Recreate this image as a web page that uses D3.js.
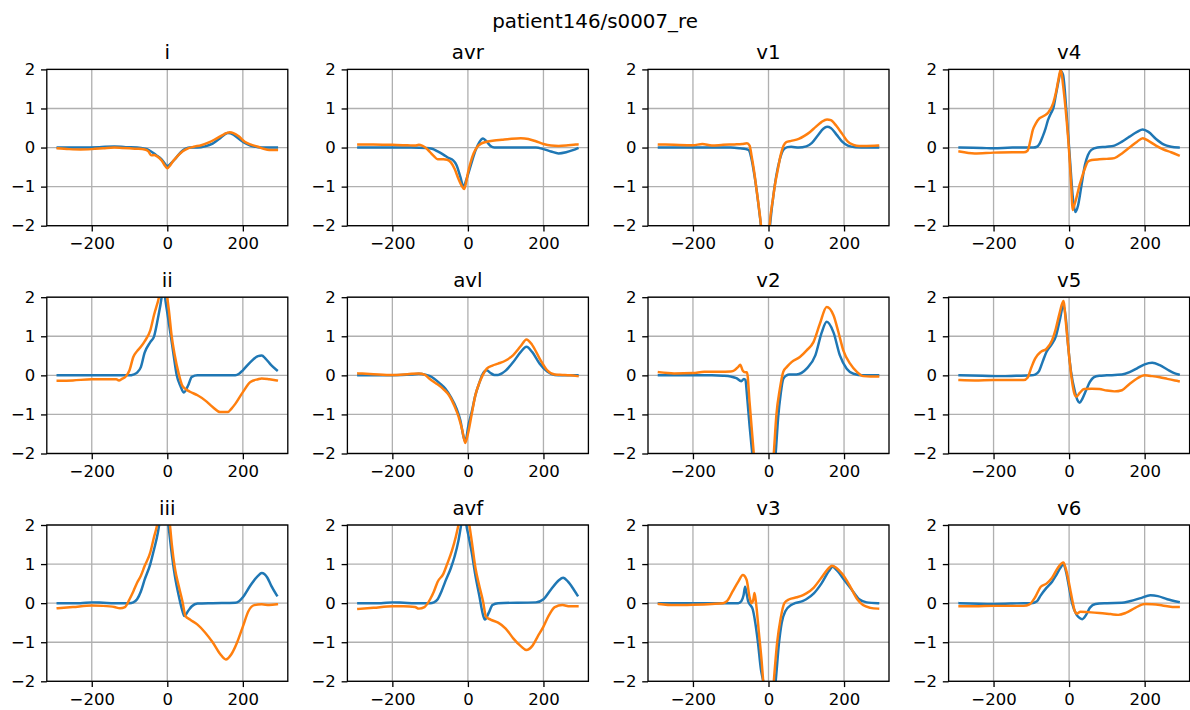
<!DOCTYPE html>
<html>
<head>
<meta charset="utf-8">
<script src="https://cdn.jsdelivr.net/npm/d3@7"></script>
<style>
  body { margin: 0; background: #fff; }
  svg { display: block; }
  text { font-family: "DejaVu Sans", sans-serif; fill: #000; }
</style>
</head>
<body>
<svg id="chart" width="1190" height="710"></svg>
<script>
// ---- figure text and axis ticks ----
const figTitle = "patient146/s0007_re";
const leadNames = ["i", "avr", "v1", "v4", "ii", "avl", "v2", "v5", "iii", "avf", "v3", "v6"];
const xTicks = [-200, 0, 200];
const yTicks = [-2, -1, 0, 1, 2];
const xDomain = [-319, 319];
const yDomain = [-2, 2];

// ---- beat traces: [sample offset, amplitude] ; first series (blue) and second series (orange) ----
const iA = [[-290,0],[-230,0],[-180,0.01],[-140,0.03],[-110,0.01],[-80,0],[-60,-0.03],[-50,-0.06],[-30,-0.19],[-15,-0.3],[0,-0.47],[10,-0.4],[20,-0.3],[30,-0.18],[40,-0.08],[50,-0.02],[60,0],[80,0],[100,0.03],[120,0.1],[140,0.24],[160,0.37],[175,0.33],[190,0.22],[205,0.12],[220,0.05],[240,0.01],[260,0],[290,0]];
const iB = [[-290,-0.02],[-260,-0.04],[-230,-0.05],[-200,-0.04],[-170,-0.02],[-140,0],[-120,-0.01],[-100,-0.02],[-80,-0.03],[-60,-0.05],[-50,-0.1],[-42,-0.2],[-35,-0.19],[-28,-0.22],[-15,-0.33],[-5,-0.48],[0,-0.53],[8,-0.45],[15,-0.35],[25,-0.24],[40,-0.1],[55,-0.02],[70,0.02],[90,0.06],[110,0.13],[130,0.23],[150,0.34],[165,0.39],[175,0.37],[190,0.28],[205,0.15],[220,0.08],[240,0.02],[255,-0.03],[270,-0.06],[290,-0.06]];

const avrA = [[-290,0],[-200,0],[-150,0],[-110,-0.01],[-95,-0.03],[-80,-0.1],[-65,-0.18],[-50,-0.27],[-40,-0.32],[-30,-0.45],[-20,-0.75],[-12,-1.0],[-5,-0.85],[0,-0.7],[10,-0.38],[20,-0.08],[30,0.13],[40,0.23],[50,0.15],[60,0.04],[70,0],[100,0],[140,0],[180,0],[200,-0.04],[220,-0.1],[240,-0.15],[260,-0.12],[280,-0.06],[290,-0.02]];
const avrB = [[-290,0.08],[-250,0.08],[-200,0.07],[-160,0.06],[-140,0.05],[-130,0.07],[-120,0.04],[-110,-0.02],[-100,-0.12],[-90,-0.22],[-80,-0.3],[-65,-0.3],[-55,-0.31],[-45,-0.38],[-35,-0.55],[-25,-0.8],[-15,-1.0],[-10,-1.06],[-5,-0.9],[0,-0.65],[8,-0.35],[15,-0.15],[25,0.02],[35,0.1],[50,0.15],[70,0.18],[90,0.2],[110,0.22],[140,0.24],[160,0.22],[180,0.16],[200,0.09],[220,0.05],[240,0.04],[260,0.05],[280,0.07],[290,0.08]];

const v1A = [[-290,0],[-200,0],[-100,0],[-75,-0.02],[-60,-0.04],[-52,-0.07],[-46,-0.25],[-40,-0.55],[-32,-1.05],[-23,-1.75],[-15,-2.4],[-5,-2.8],[0,-2.5],[4,-2.0],[12,-1.3],[21,-0.7],[30,-0.3],[40,-0.05],[50,0.01],[60,0.02],[80,0],[100,0.03],[115,0.12],[130,0.3],[145,0.48],[155,0.53],[165,0.5],[180,0.33],[195,0.15],[210,0.05],[230,0.01],[260,0],[290,0]];
const v1B = [[-290,0.08],[-250,0.07],[-200,0.06],[-175,0.09],[-150,0.05],[-120,0.07],[-90,0.08],[-70,0.09],[-57,0.11],[-50,0.05],[-45,-0.2],[-39,-0.55],[-32,-1.05],[-23,-1.72],[-15,-2.4],[-5,-2.8],[0,-2.5],[3,-2.0],[12,-1.3],[18,-0.9],[25,-0.55],[32,-0.2],[40,0.05],[47,0.14],[60,0.17],[80,0.22],[95,0.3],[110,0.4],[125,0.53],[140,0.65],[155,0.72],[165,0.7],[180,0.55],[195,0.35],[210,0.15],[225,0.07],[240,0.04],[260,0.04],[290,0.05]];

const v4A = [[-290,0],[-230,-0.01],[-200,-0.02],[-150,0],[-120,0],[-95,0],[-85,0.02],[-78,0.1],[-70,0.28],[-62,0.5],[-56,0.7],[-48,0.88],[-42,1.0],[-35,1.35],[-28,1.7],[-22,1.95],[-16,1.86],[-7,0.92],[2,-0.27],[11,-1.38],[17,-1.65],[24,-1.47],[33,-0.95],[42,-0.44],[50,-0.19],[59,-0.06],[75,0],[100,0.02],[120,0.05],[140,0.15],[160,0.28],[180,0.4],[195,0.46],[210,0.4],[230,0.22],[250,0.08],[270,0.02],[290,0]];
const v4B = [[-290,-0.1],[-250,-0.15],[-200,-0.13],[-150,-0.12],[-120,-0.12],[-110,-0.08],[-102,0.2],[-96,0.45],[-88,0.62],[-78,0.75],[-65,0.82],[-55,0.9],[-42,1.14],[-35,1.4],[-29,1.7],[-22,2.0],[-16,1.6],[-7,0.75],[0,-0.1],[6,-1.04],[9,-1.6],[13,-1.5],[19,-1.3],[28,-0.95],[33,-0.79],[42,-0.53],[50,-0.36],[60,-0.32],[80,-0.3],[100,-0.29],[120,-0.27],[140,-0.15],[160,0],[180,0.15],[195,0.24],[210,0.17],[230,0.05],[250,-0.05],[270,-0.12],[290,-0.2]];

const iiA = [[-290,0],[-200,0],[-150,0],[-100,0],[-90,0.02],[-80,0.07],[-70,0.21],[-60,0.58],[-45,0.85],[-35,1.0],[-25,1.45],[-15,2.0],[-10,2.4],[-6,2.0],[0,1.6],[9,1.03],[17,0.5],[25,0],[35,-0.28],[44,-0.44],[55,-0.26],[65,-0.04],[80,0],[120,0],[180,0],[190,0.04],[200,0.13],[220,0.34],[240,0.49],[250,0.51],[260,0.43],[275,0.26],[290,0.13]];
const iiB = [[-290,-0.14],[-250,-0.13],[-200,-0.1],[-150,-0.1],[-135,-0.1],[-128,-0.13],[-120,-0.09],[-110,-0.03],[-100,0.13],[-90,0.47],[-80,0.62],[-70,0.73],[-60,0.87],[-45,1.15],[-35,1.55],[-22,2.0],[-12,2.5],[-5,2.6],[0,2.0],[5,1.6],[11,1.05],[20,0.5],[30,0.05],[40,-0.27],[50,-0.36],[60,-0.42],[80,-0.51],[100,-0.64],[120,-0.81],[140,-0.94],[160,-0.94],[170,-0.85],[180,-0.73],[200,-0.43],[220,-0.17],[240,-0.1],[250,-0.08],[270,-0.1],[290,-0.13]];

const avlA = [[-290,0],[-200,0],[-150,0.02],[-130,0.04],[-110,0.01],[-100,-0.02],[-90,-0.08],[-75,-0.2],[-60,-0.34],[-45,-0.56],[-30,-0.85],[-20,-1.15],[-12,-1.55],[-8,-1.67],[-3,-1.55],[0,-1.35],[10,-0.94],[20,-0.5],[30,-0.2],[40,0.05],[50,0.13],[60,0.06],[70,0.01],[80,0.01],[90,0.05],[100,0.12],[120,0.34],[140,0.6],[155,0.73],[170,0.6],[190,0.3],[210,0.1],[230,0.01],[250,0],[290,0]];
const avlB = [[-290,0.05],[-250,0.03],[-200,0.01],[-160,0.03],[-130,0.05],[-115,0.02],[-100,-0.1],[-85,-0.2],[-65,-0.35],[-50,-0.51],[-35,-0.8],[-25,-1.05],[-15,-1.4],[-7,-1.73],[0,-1.5],[10,-1.0],[20,-0.5],[30,-0.2],[40,0.02],[50,0.17],[65,0.25],[80,0.3],[100,0.38],[120,0.52],[140,0.75],[155,0.92],[170,0.78],[190,0.43],[210,0.13],[230,0.02],[250,0.01],[270,0],[290,-0.02]];

const v2A = [[-290,0],[-200,0],[-150,0],[-120,-0.01],[-100,-0.03],[-85,-0.07],[-72,-0.15],[-65,-0.09],[-61,-0.12],[-57,-0.5],[-50,-1.3],[-43,-2.0],[-35,-2.8],[-10,-3.5],[10,-2.9],[19,-2.0],[26,-1.03],[32,-0.5],[39,-0.09],[48,0],[55,0.02],[74,0.02],[101,0.17],[124,0.51],[141,1.1],[154,1.37],[172,1.1],[189,0.51],[207,0.17],[225,0.04],[250,0],[290,0]];
const v2B = [[-290,0.08],[-250,0.05],[-200,0.06],[-170,0.09],[-130,0.09],[-100,0.1],[-90,0.13],[-80,0.22],[-75,0.27],[-68,0.12],[-62,0.08],[-57,0.08],[-50,-0.7],[-39,-2.0],[-30,-3.0],[-10,-3.6],[8,-2.8],[14,-2.0],[21,-1.0],[30,-0.35],[39,0.09],[48,0.21],[61,0.34],[83,0.47],[101,0.64],[119,0.85],[136,1.32],[154,1.75],[172,1.54],[185,1.11],[198,0.64],[216,0.3],[234,0.09],[251,-0.02],[270,-0.03],[290,-0.03]];

const v5A = [[-290,0],[-230,-0.01],[-180,-0.02],[-140,-0.01],[-100,0],[-90,0.02],[-80,0.1],[-70,0.35],[-60,0.6],[-45,0.81],[-35,1.0],[-25,1.4],[-15,1.79],[-8,1.4],[-3,0.8],[5,0.1],[15,-0.4],[22,-0.63],[28,-0.7],[35,-0.6],[45,-0.38],[55,-0.17],[65,-0.05],[80,-0.01],[100,0],[140,0.02],[160,0.08],[180,0.18],[200,0.28],[220,0.32],[240,0.26],[260,0.15],[280,0.05],[290,0.02]];
const v5B = [[-290,-0.12],[-250,-0.13],[-200,-0.12],[-150,-0.12],[-120,-0.12],[-110,-0.06],[-100,0.2],[-90,0.43],[-75,0.6],[-60,0.68],[-45,0.9],[-35,1.2],[-25,1.6],[-15,1.9],[-8,1.3],[0,0.5],[7,-0.1],[15,-0.5],[19,-0.55],[28,-0.45],[40,-0.35],[60,-0.34],[80,-0.35],[100,-0.39],[120,-0.41],[140,-0.38],[160,-0.22],[180,-0.08],[200,0],[220,-0.02],[240,-0.05],[260,-0.09],[280,-0.13],[290,-0.15]];

const iiiA = [[-290,0],[-230,0],[-200,0.02],[-170,0.01],[-140,0],[-100,0],[-90,0.02],[-80,0.1],[-70,0.3],[-60,0.6],[-45,1.0],[-35,1.38],[-25,1.8],[-20,2.1],[-12,2.6],[-4,2.6],[3,2.0],[10,1.4],[20,0.7],[30,0.2],[40,-0.2],[45,-0.33],[55,-0.2],[65,-0.08],[80,-0.01],[120,0],[180,0.01],[190,0.05],[200,0.15],[220,0.45],[240,0.7],[250,0.77],[265,0.65],[275,0.45],[290,0.2]];
const iiiB = [[-290,-0.13],[-250,-0.1],[-200,-0.06],[-170,-0.07],[-140,-0.1],[-125,-0.13],[-112,-0.1],[-100,0.1],[-90,0.3],[-80,0.52],[-70,0.7],[-60,0.95],[-45,1.3],[-35,1.7],[-27,2.0],[-18,2.6],[-5,2.8],[7,2.0],[12,1.5],[20,0.9],[30,0.45],[40,0.05],[48,-0.33],[60,-0.42],[80,-0.55],[100,-0.75],[120,-1.0],[140,-1.3],[155,-1.44],[170,-1.3],[185,-1.0],[200,-0.6],[215,-0.2],[230,-0.05],[250,-0.03],[270,-0.05],[290,-0.03]];

const avfA = [[-290,0],[-230,0],[-200,0.02],[-170,0.01],[-140,0],[-100,0],[-90,0.02],[-80,0.1],[-70,0.3],[-60,0.55],[-45,0.9],[-35,1.2],[-25,1.6],[-18,2.0],[-10,2.5],[-4,2.0],[2,1.7],[10,1.3],[20,0.7],[30,0.2],[40,-0.3],[45,-0.42],[55,-0.25],[65,-0.05],[80,0],[180,0.02],[200,0.1],[220,0.35],[240,0.58],[252,0.65],[265,0.55],[280,0.35],[290,0.2]];
const avfB = [[-290,-0.15],[-250,-0.12],[-200,-0.08],[-170,-0.08],[-140,-0.1],[-130,-0.14],[-115,-0.1],[-100,0.1],[-90,0.3],[-80,0.55],[-65,0.75],[-55,1.0],[-42,1.35],[-32,1.7],[-25,2.0],[-12,2.6],[-3,2.6],[4,2.0],[10,1.6],[20,0.9],[30,0.45],[40,0.05],[48,-0.35],[60,-0.42],[80,-0.5],[100,-0.65],[120,-0.9],[140,-1.1],[155,-1.2],[170,-1.1],[185,-0.85],[200,-0.6],[215,-0.3],[230,-0.1],[250,-0.05],[270,-0.08],[290,-0.08]];

const v3A = [[-290,0],[-200,0],[-150,0],[-100,0],[-80,0],[-72,0.05],[-66,0.2],[-62,0.42],[-58,0.25],[-54,0.05],[-48,-0.05],[-42,-0.15],[-35,-0.5],[-28,-1.0],[-20,-1.7],[-14,-2.0],[0,-3.0],[12,-2.6],[19,-2.0],[28,-1.0],[35,-0.5],[45,-0.2],[60,-0.05],[70,0],[90,0.05],[100,0.1],[120,0.25],[140,0.5],[160,0.82],[170,0.93],[180,0.85],[200,0.6],[220,0.35],[240,0.1],[260,0.02],[290,0]];
const v3B = [[-290,-0.02],[-250,-0.05],[-200,-0.04],[-150,-0.02],[-120,0],[-110,0.05],[-95,0.3],[-80,0.55],[-68,0.72],[-58,0.6],[-50,0.15],[-45,0],[-40,0.1],[-37,0.26],[-33,0],[-25,-0.8],[-18,-1.5],[-14,-2.0],[0,-3.2],[10,-2.5],[14,-2.0],[23,-1.0],[32,-0.4],[42,0],[55,0.1],[75,0.15],[90,0.2],[100,0.25],[120,0.4],[140,0.65],[160,0.9],[168,0.96],[180,0.9],[195,0.75],[215,0.45],[235,0.1],[250,-0.05],[270,-0.12],[290,-0.14]];

const v6A = [[-290,0],[-200,-0.02],[-150,-0.01],[-120,0],[-100,0],[-85,0.05],[-75,0.2],[-60,0.39],[-45,0.55],[-35,0.7],[-22,0.92],[-15,1.0],[-8,0.8],[0,0.4],[8,0],[20,-0.3],[28,-0.38],[35,-0.41],[45,-0.3],[55,-0.12],[70,-0.02],[100,0],[140,0.01],[160,0.05],[190,0.13],[215,0.2],[235,0.18],[260,0.1],[290,0.03]];
const v6B = [[-290,-0.08],[-250,-0.08],[-200,-0.07],[-160,-0.07],[-120,-0.07],[-105,-0.03],[-90,0.15],[-75,0.42],[-60,0.5],[-45,0.65],[-30,0.9],[-15,1.04],[-10,0.92],[-3,0.65],[3,0.35],[8,0.1],[15,-0.2],[20,-0.27],[30,-0.22],[50,-0.23],[80,-0.25],[110,-0.28],[130,-0.3],[150,-0.25],[175,-0.12],[200,-0.02],[220,-0.03],[240,-0.05],[260,-0.08],[280,-0.1],[290,-0.1]];

const seriesColors = ["#1f77b4", "#ff7f0e"];

// lead name -> its two traces, in drawing order
const traceTable = {
  i: [iA, iB], avr: [avrA, avrB], v1: [v1A, v1B], v4: [v4A, v4B],
  ii: [iiA, iiB], avl: [avlA, avlB], v2: [v2A, v2B], v5: [v5A, v5B],
  iii: [iiiA, iiiB], avf: [avfA, avfB], v3: [v3A, v3B], v6: [v6A, v6B]
};

// ---- layout (4 columns x 3 rows) ----
const W = 1190, H = 710;
const pt = 119 / 72;                 // pixels per point
const panelW = 241, panelH = 156.3;
const colLeft = c => 46.8 + c * 300.6;
const rowTop = r => 69.4 + r * 227.8;
const tickFont = 10 * pt, titleFont = 12 * pt;
const tickLen = 3.5 * pt, tickPad = 3.5 * pt;

const svg = d3.select("#chart");
svg.append("rect").attr("width", W).attr("height", H).attr("fill", "#fff");

svg.append("text")
  .attr("x", W / 2).attr("y", 28)
  .attr("text-anchor", "middle")
  .style("font-size", titleFont + "px")
  .text(figTitle);

const fmt = d => (d < 0 ? "\u2212" + Math.abs(d) : String(d));

leadNames.forEach((name, k) => {
  const c = k % 4, r = Math.floor(k / 4);
  const g = svg.append("g").attr("transform", `translate(${colLeft(c)},${rowTop(r)})`);

  const x = d3.scaleLinear().domain(xDomain).range([0, panelW]);
  const y = d3.scaleLinear().domain(yDomain).range([panelH, 0]);

  // grid
  g.append("g").selectAll("line").data(xTicks).join("line")
    .attr("x1", d => x(d)).attr("x2", d => x(d))
    .attr("y1", 0).attr("y2", panelH)
    .attr("stroke", "#b0b0b0").attr("stroke-width", 0.8 * pt);
  g.append("g").selectAll("line").data(yTicks).join("line")
    .attr("x1", 0).attr("x2", panelW)
    .attr("y1", d => y(d)).attr("y2", d => y(d))
    .attr("stroke", "#b0b0b0").attr("stroke-width", 0.8 * pt);

  // traces
  const clipId = "clip-" + k;
  g.append("clipPath").attr("id", clipId)
    .append("rect").attr("width", panelW).attr("height", panelH);

  const line = d3.line()
    .x(d => x(d[0]))
    .y(d => y(d[1]))
    .curve(d3.curveMonotoneX);

  const lg = g.append("g").attr("clip-path", `url(#${clipId})`);
  traceTable[name].forEach((pts, s) => {
    lg.append("path")
      .attr("d", line(pts))
      .attr("fill", "none")
      .attr("stroke", seriesColors[s])
      .attr("stroke-width", 1.5 * pt)
      .attr("stroke-linejoin", "round")
      .attr("stroke-linecap", "square");
  });

  // axes
  const xAxis = d3.axisBottom(x).tickValues(xTicks).tickSize(tickLen).tickPadding(tickPad).tickFormat(fmt);
  const yAxis = d3.axisLeft(y).tickValues(yTicks).tickSize(tickLen).tickPadding(tickPad).tickFormat(fmt);

  const gx = g.append("g").attr("transform", `translate(0,${panelH})`).call(xAxis);
  const gy = g.append("g").call(yAxis);
  [gx, gy].forEach(a => {
    a.select(".domain").remove();
    a.selectAll(".tick line").attr("stroke", "#000").attr("stroke-width", 0.8 * pt);
    a.selectAll(".tick text")
      .style("font-size", tickFont + "px")
      .style("font-family", "'DejaVu Sans', sans-serif")
      .attr("fill", "#000");
  });

  // spines
  g.append("rect")
    .attr("width", panelW).attr("height", panelH)
    .attr("fill", "none").attr("stroke", "#000").attr("stroke-width", 0.8 * pt);

  // panel title
  g.append("text")
    .attr("x", panelW / 2).attr("y", -6 * pt - 0.5)
    .attr("text-anchor", "middle")
    .style("font-size", titleFont + "px")
    .text(name);
});
</script>
</body>
</html>
